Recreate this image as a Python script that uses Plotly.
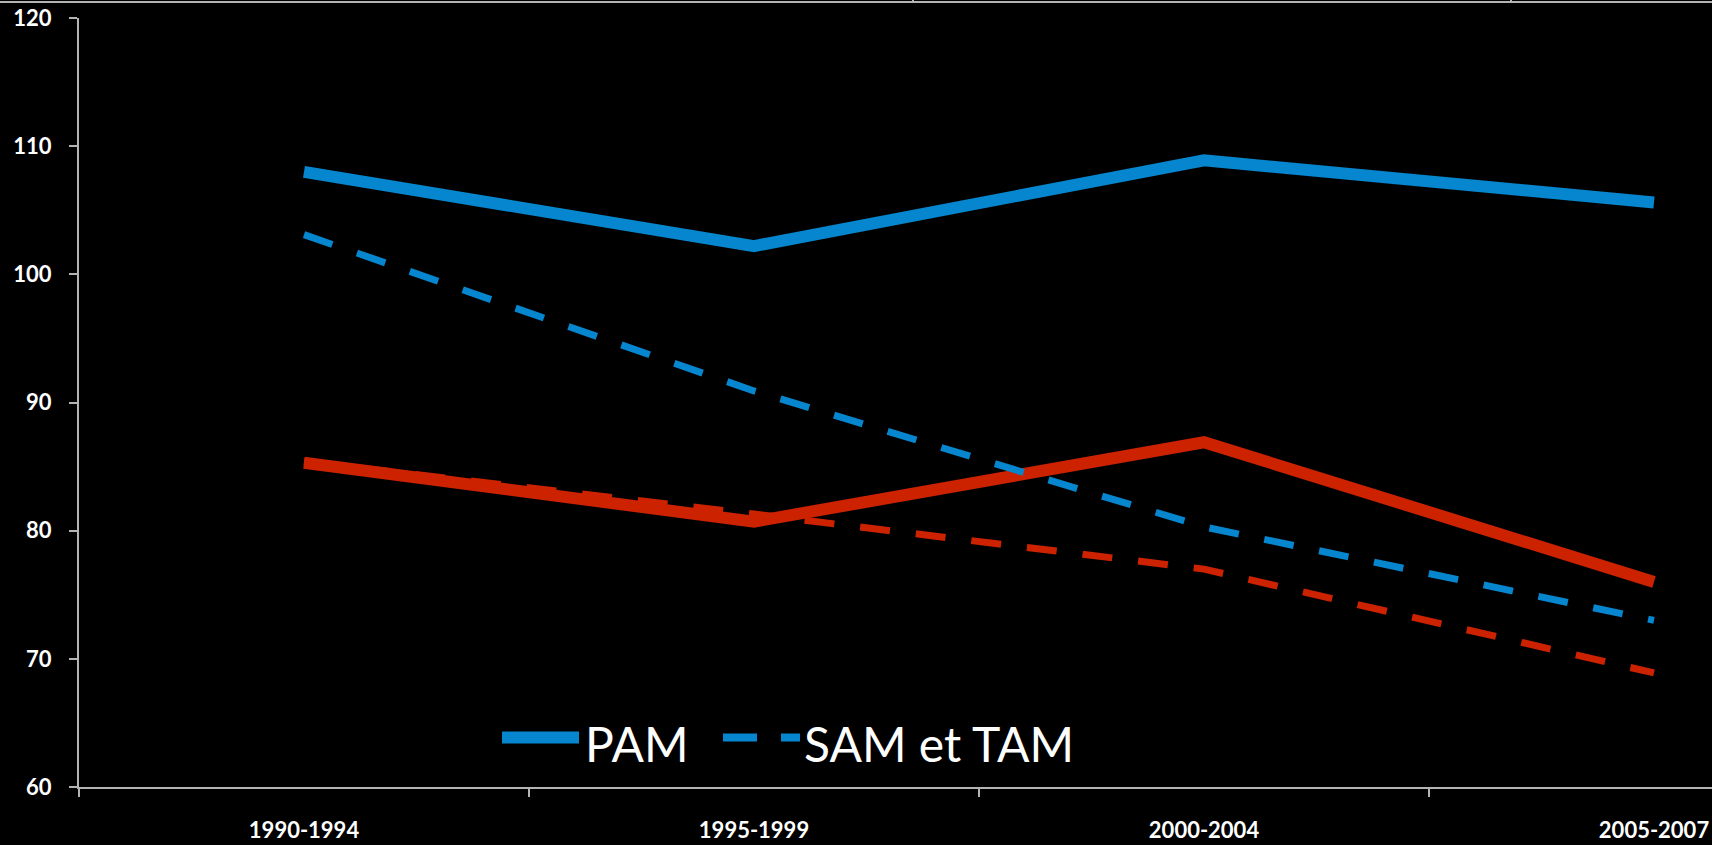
import plotly.graph_objects as go

# Periods on the x axis
periods = ["1990-1994", "1995-1999", "2000-2004", "2005-2007"]

# Blue series
blue_pam = [108.0, 102.2, 108.9, 105.6]
blue_sam_tam = [103.1, 90.9, 80.3, 73.0]

# Red series
red_pam = [85.3, 80.7, 86.9, 76.0]
red_sam_tam = [85.4, 81.3, 77.0, 68.9]

# Y axis ticks
y_ticks = [60, 70, 80, 90, 100, 110, 120]

BLUE = "#0586CE"
RED = "#CC2200"
AXIS = "#B4B4B4"
FONT = "Lato"

W, H = 1712, 845
ML, MT, MB = 79, 18, 58
plot_w = W - ML
plot_h = H - MT - MB
cat_px = 450.0  # width of one category band


def px_x(px):
    return (px - ML) / plot_w


def px_y(py):
    return (H - MB - py) / plot_h


fig = go.Figure()

fig.add_trace(go.Scatter(x=periods, y=red_pam, mode="lines",
                         line=dict(color=RED, width=12), showlegend=False))
fig.add_trace(go.Scatter(x=periods, y=red_sam_tam, mode="lines",
                         line=dict(color=RED, width=7, dash="30px,26px"),
                         showlegend=False))
fig.add_trace(go.Scatter(x=periods, y=blue_pam, mode="lines",
                         line=dict(color=BLUE, width=12), showlegend=False))
fig.add_trace(go.Scatter(x=periods, y=blue_sam_tam, mode="lines",
                         line=dict(color=BLUE, width=7, dash="30px,26px"),
                         showlegend=False))

# Style key: solid = PAM, dashed = SAM et TAM
key_y = px_y(737.5)
shapes = [
    dict(type="line", xref="paper", yref="paper",
         x0=px_x(502), x1=px_x(579), y0=key_y, y1=key_y,
         line=dict(color=BLUE, width=12)),
    dict(type="line", xref="paper", yref="paper",
         x0=px_x(723), x1=px_x(757), y0=key_y, y1=key_y,
         line=dict(color=BLUE, width=8)),
    dict(type="line", xref="paper", yref="paper",
         x0=px_x(781), x1=px_x(800), y0=key_y, y1=key_y,
         line=dict(color=BLUE, width=8)),
    # thin rule along the top edge
    dict(type="line", xref="paper", yref="paper",
         x0=px_x(0), x1=px_x(W), y0=px_y(2), y1=px_y(2),
         line=dict(color=AXIS, width=2)),
    dict(type="line", xref="paper", yref="paper",
         x0=px_x(913), x1=px_x(913), y0=px_y(0), y1=px_y(3),
         line=dict(color=AXIS, width=2)),
    dict(type="line", xref="paper", yref="paper",
         x0=px_x(1511), x1=px_x(1511), y0=px_y(0), y1=px_y(3),
         line=dict(color=AXIS, width=2)),
]

annotations = [
    dict(text="PAM", xref="paper", yref="paper", x=px_x(583), y=px_y(743),
         xanchor="left", yanchor="middle", showarrow=False,
         font=dict(family=FONT, size=48, color="white")),
    dict(text="SAM et TAM", xref="paper", yref="paper", x=px_x(802), y=px_y(743),
         xanchor="left", yanchor="middle", showarrow=False,
         font=dict(family=FONT, size=48, color="white")),
]

fig.update_layout(
    width=W, height=H,
    margin=dict(l=ML, r=0, t=MT, b=MB, pad=0),
    paper_bgcolor="black", plot_bgcolor="black",
    shapes=shapes, annotations=annotations,
    showlegend=False,
)

fig.update_xaxes(
    type="category", categoryorder="array", categoryarray=periods,
    range=[-0.5, -0.5 + plot_w / cat_px],
    tickson="boundaries", ticks="outside", ticklen=8, tickwidth=2,
    tickcolor=AXIS, showline=True, linecolor=AXIS, linewidth=2,
    showgrid=False, zeroline=False, ticklabelstandoff=23,
    tickfont=dict(family=FONT, size=22, color="white", weight="bold"),
)

fig.update_yaxes(
    range=[60, 120], tickvals=y_ticks,
    ticks="outside", ticklen=8, tickwidth=2, tickcolor=AXIS,
    showline=True, linecolor=AXIS, linewidth=2,
    showgrid=False, zeroline=False, ticklabelstandoff=13,
    tickfont=dict(family=FONT, size=22, color="white", weight="bold"),
)

fig.write_html("out.html")
